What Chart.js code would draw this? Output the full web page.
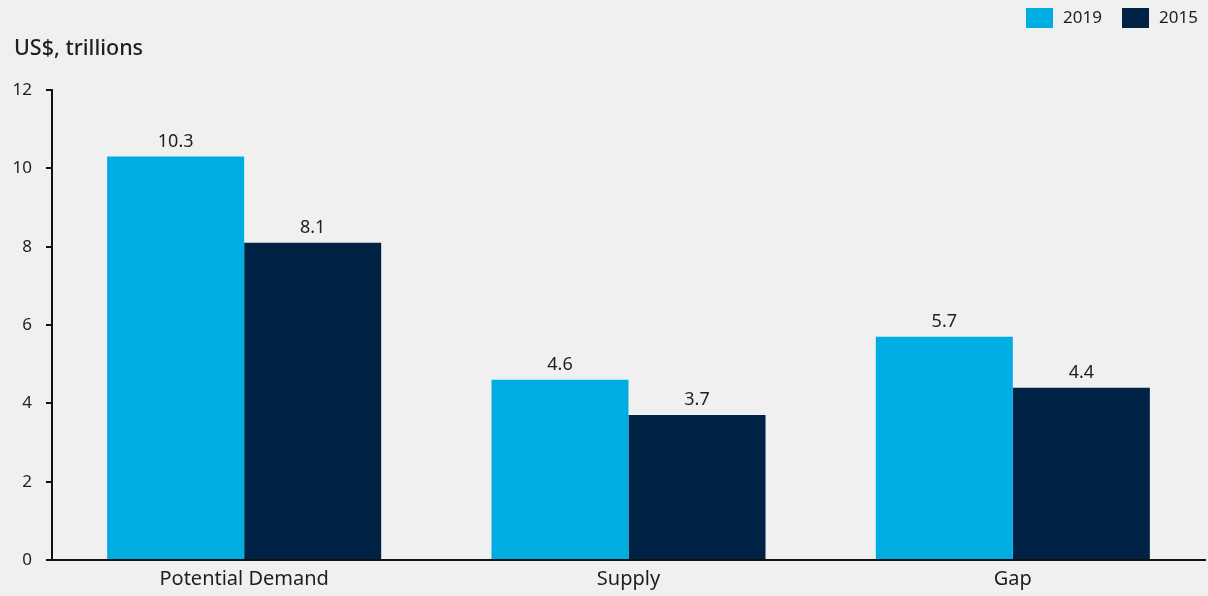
<!DOCTYPE html>
<html>
<head>
<meta charset="utf-8">
<script src="https://cdn.jsdelivr.net/npm/chart.js@4/dist/chart.umd.min.js"></script>
<style>
  html, body { margin: 0; padding: 0; background: #f0f0f0; }
  #wrap { width: 1208px; height: 596px; position: relative; }
</style>
</head>
<body>
<div id="wrap"><canvas id="c" width="1208" height="596"></canvas></div>
<script>
// Categories and series (US$, trillions)
const categories = ['Potential Demand', 'Supply', 'Gap'];
const values2019 = [10.3, 4.6, 5.7];
const values2015 = [8.1, 3.7, 4.4];
const seriesNames = ['2019', '2015'];
const yTicks = [0, 2, 4, 6, 8, 10, 12];
const unitLabel = 'US$, trillions';

const FONT = '"Noto Sans", "Open Sans", sans-serif';
const INK = '#1e1e1e';

// Value labels above each bar
const valueLabels = {
  id: 'valueLabels',
  afterDatasetsDraw(chart) {
    const ctx = chart.ctx;
    ctx.save();
    ctx.font = '18px ' + FONT;
    ctx.fillStyle = INK;
    ctx.textAlign = 'center';
    ctx.textBaseline = 'alphabetic';
    chart.data.datasets.forEach((ds, i) => {
      chart.getDatasetMeta(i).data.forEach((bar, j) => {
        ctx.fillText(ds.data[j].toFixed(1), bar.x, bar.y - 10);
      });
    });
    ctx.restore();
  }
};

// Unit caption and legend at the top
const header = {
  id: 'header',
  afterDraw(chart) {
    const ctx = chart.ctx;
    ctx.save();
    ctx.fillStyle = INK;
    ctx.font = '500 21.5px ' + FONT;
    ctx.textAlign = 'left';
    ctx.textBaseline = 'middle';
    ctx.fillText(unitLabel, 14, 49);

    const items = chart.data.datasets;
    const pos = [1026, 1122];
    ctx.font = '17px ' + FONT;
    items.forEach((ds, i) => {
      ctx.fillStyle = ds.backgroundColor;
      ctx.fillRect(pos[i], 8, 27, 20);
      ctx.fillStyle = INK;
      ctx.fillText(ds.label, pos[i] + 37, 18.5);
    });
    ctx.restore();
  }
};

new Chart(document.getElementById('c'), {
  type: 'bar',
  data: {
    labels: categories,
    datasets: [
      { label: seriesNames[0], data: values2019, backgroundColor: '#00ade3' },
      { label: seriesNames[1], data: values2015, backgroundColor: '#002244' }
    ]
  },
  options: {
    responsive: false,
    animation: false,
    events: [],
    layout: { padding: { top: 90, right: 3, left: 0, bottom: 0 } },
    categoryPercentage: 0.713,
    barPercentage: 1.0,
    plugins: { legend: { display: false }, tooltip: { enabled: false } },
    scales: {
      x: {
        grid: { display: false, drawTicks: false },
        border: { display: true, color: '#111', width: 2 },
        ticks: { color: INK, font: { family: FONT, size: 20 }, padding: 7 },
        afterFit(s) { s.height = 36; }
      },
      y: {
        min: 0, max: 12,
        afterBuildTicks(s) { s.ticks = yTicks.map(v => ({ value: v })); },
        grid: { display: true, drawOnChartArea: false, drawTicks: true, tickLength: 6, color: '#111', lineWidth: 2 },
        border: { display: true, color: '#111', width: 2 },
        ticks: { color: INK, font: { family: FONT, size: 17 }, padding: 14 },
        afterFit(s) { s.width = 52; }
      }
    }
  },
  plugins: [valueLabels, header]
});
</script>
</body>
</html>
